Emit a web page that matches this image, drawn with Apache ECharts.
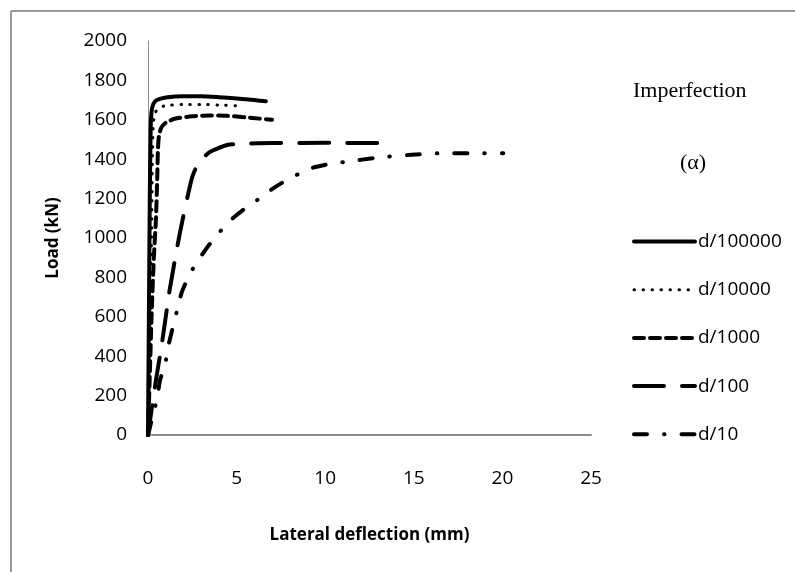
<!DOCTYPE html>
<html>
<head>
<meta charset="utf-8">
<script src="https://cdn.jsdelivr.net/npm/echarts@6/dist/echarts.min.js"></script>
<style>
html,body{margin:0;padding:0;background:#fff;}
#chart{width:795px;height:572px;}
</style>
</head>
<body>
<div id="chart"></div>
<script>
// Series names
const seriesNames = ['d/100000', 'd/10000', 'd/1000', 'd/100', 'd/10'];
// tick labels
const xTicks = [0, 5, 10, 15, 20, 25];
const yTicks = [0, 200, 400, 600, 800, 1000, 1200, 1400, 1600, 1800, 2000];

// [lateral deflection (mm), load (kN)]
const d100000 = [[0,0],[0.05,600],[0.1,1200],[0.15,1550],[0.2,1640],[0.3,1680],[0.5,1700],[1,1713],[2,1720],[3,1720],[4,1715],[5,1708],[6,1700],[6.65,1694]];
const d10000 = [[0,0],[0.1,500],[0.2,1000],[0.25,1400],[0.3,1580],[0.4,1634],[0.6,1660],[1,1672],[2,1678],[3,1678],[4,1675],[5,1671],[5.4,1668]];
const d1000 = [[0,0],[0.1,300],[0.2,600],[0.33,900],[0.45,1100],[0.52,1300],[0.56,1450],[0.62,1520],[0.75,1560],[1,1585],[1.5,1605],[2.5,1618],[3.5,1622],[4.5,1620],[5.5,1613],[6.3,1606],[7,1600]];
const d100 = [[0,0],[0.28,178],[0.45,279],[0.79,467],[1.24,746],[1.81,1030],[2.48,1305],[2.88,1386],[3.5,1437],[4.46,1472],[5.3,1478],[7,1482],[10,1483],[12.5,1482],[13.8,1481]];
const d10 = [[0,0],[0.25,90],[0.5,178],[0.68,279],[0.96,355],[1.15,453],[1.62,626],[1.9,723],[2.33,812],[2.84,888],[3.4,959],[4.06,1032],[4.67,1091],[5.42,1146],[6.22,1196],[6.98,1247],[7.73,1289],[8.56,1328],[9.32,1357],[10.27,1376],[11.21,1387],[12.94,1408],[14.67,1421],[16.48,1430],[18.27,1430],[20.05,1430]];

const seriesData = [d100000, d10000, d1000, d100, d10];
const styles = [
  {width: 4, type: 'solid', cap: 'round'},
  {width: 3, type: [0.5, 8.5], cap: 'round'},
  {width: 4, type: [10, 6], cap: 'round'},
  {width: 4, type: [30, 18], cap: 'round'},
  {width: 4, type: [13, 17, 0.5, 17], cap: 'round'}
];

const chart = echarts.init(document.getElementById('chart'), null, {renderer: 'canvas'});
const font = '"Open Sans", "Noto Sans", sans-serif';

chart.setOption({
  animation: false,
  backgroundColor: '#fff',
  grid: {left: 148, top: 41, right: 204, bottom: 137, containLabel: false},
  xAxis: {
    type: 'value', min: 0, max: 25, interval: 5,
    name: 'Lateral deflection (mm)', nameLocation: 'middle', nameGap: 92,
    nameTextStyle: {fontFamily: font, fontWeight: 'bold', fontSize: 17, color: '#000'},
    axisLine: {show: true, lineStyle: {color: '#8c8c8c', width: 2}},
    axisTick: {show: false},
    splitLine: {show: false},
    axisLabel: {margin: 34, fontFamily: font, fontSize: 19, color: '#000', formatter: v => String(v)}
  },
  yAxis: {
    type: 'value', min: 0, max: 2000, interval: 200,
    name: 'Load (kN)', nameLocation: 'middle', nameGap: 86, nameRotate: 90,
    nameTextStyle: {fontFamily: font, fontWeight: 'bold', fontSize: 17, color: '#000'},
    axisLine: {show: true, lineStyle: {color: '#8c8c8c', width: 1}},
    axisTick: {show: false},
    splitLine: {show: false},
    axisLabel: {margin: 21, fontFamily: font, fontSize: 19, color: '#000', formatter: v => String(v)}
  },
  legend: {
    orient: 'vertical', left: 632, top: 232, padding: 0,
    itemWidth: 61, itemHeight: 20, itemGap: 29.2,
    itemStyle: {opacity: 0},
    lineStyle: {width: 'inherit'},
    textStyle: {fontFamily: font, fontSize: 19, color: '#000', padding: [0,0,0,-2]},
    data: seriesNames
  },
  series: seriesNames.map((n, i) => ({
    name: n, type: 'line', data: seriesData[i],
    showSymbol: false, symbol: 'none', smooth: 0.2,
    lineStyle: {color: '#000', width: styles[i].width, type: styles[i].type, cap: styles[i].cap},
    itemStyle: {color: '#000'},
    z: 5 - i
  })),
  graphic: [
    {type: 'line', shape: {x1: 11, y1: 11, x2: 795, y2: 11}, style: {stroke: '#999', lineWidth: 2}},
    {type: 'line', shape: {x1: 11, y1: 11, x2: 11, y2: 572}, style: {stroke: '#999', lineWidth: 2}},
    {type: 'text', left: 633, top: 80, style: {text: 'Imperfection', font: '22px "Liberation Serif", "DejaVu Serif", serif', fill: '#000'}},
    {type: 'text', left: 680, top: 152, style: {text: '(α)', font: '22px "Liberation Serif", "DejaVu Serif", serif', fill: '#000'}}
  ]
});
</script>
</body>
</html>
